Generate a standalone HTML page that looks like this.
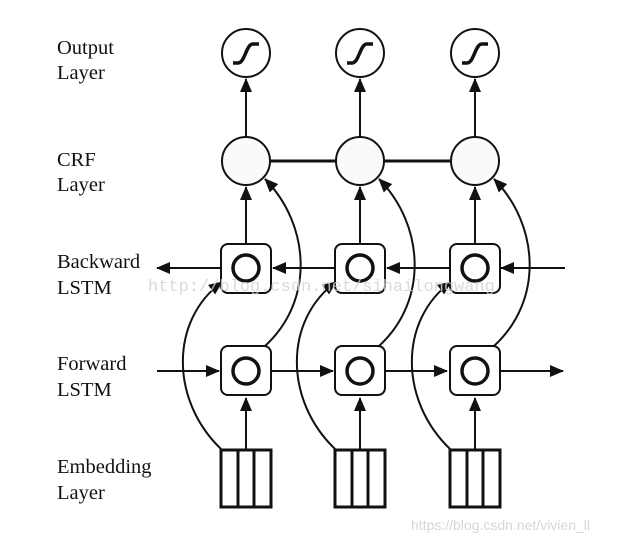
<!DOCTYPE html>
<html><head><meta charset="utf-8"><style>
html,body{margin:0;padding:0;background:#fff;}
svg{display:block;}
.lbl{font-family:"Liberation Serif",serif;font-size:20.5px;fill:#111;}
</style></head><body>
<svg width="623" height="542" viewBox="0 0 623 542" xmlns="http://www.w3.org/2000/svg">
<defs>
<marker id="ah2" markerWidth="14" markerHeight="12" refX="13" refY="6" orient="auto" markerUnits="userSpaceOnUse">
<path d="M0,0 L14,6 L0,12 z" fill="#111"/>
</marker>
</defs>
<text class="lbl" x="57" y="54">Output</text>
<text class="lbl" x="57" y="79">Layer</text>
<text class="lbl" x="57" y="166">CRF</text>
<text class="lbl" x="57" y="191">Layer</text>
<text class="lbl" x="57" y="268">Backward</text>
<text class="lbl" x="57" y="294">LSTM</text>
<text class="lbl" x="57" y="370">Forward</text>
<text class="lbl" x="57" y="396">LSTM</text>
<text class="lbl" x="57" y="473">Embedding</text>
<text class="lbl" x="57" y="499">Layer</text>

<g stroke="#111" fill="none" stroke-width="2">
<line x1="270" y1="161" x2="450" y2="161" stroke-width="3"/>
<line x1="565" y1="268" x2="501" y2="268" marker-end="url(#ah2)"/>
<line x1="450" y1="268" x2="387" y2="268" marker-end="url(#ah2)"/>
<line x1="336" y1="268" x2="273" y2="268" marker-end="url(#ah2)"/>
<line x1="221" y1="268" x2="157" y2="268" marker-end="url(#ah2)"/>
<line x1="157" y1="371" x2="219" y2="371" marker-end="url(#ah2)"/>
<line x1="271" y1="371" x2="333" y2="371" marker-end="url(#ah2)"/>
<line x1="385" y1="371" x2="447" y2="371" marker-end="url(#ah2)"/>
<line x1="499" y1="371" x2="563" y2="371" marker-end="url(#ah2)"/>
</g>

<g id="col">
<g stroke="#111" fill="none" stroke-width="2">
<line x1="246" y1="137" x2="246" y2="79" marker-end="url(#ah2)"/>
<line x1="246" y1="244" x2="246" y2="187" marker-end="url(#ah2)"/>
<line x1="246" y1="449" x2="246" y2="398" marker-end="url(#ah2)"/>
<path d="M221,449 C170,400 170,320 222,282" marker-end="url(#ah2)"/>
<path d="M265,346 C315,300 310,225 265,179" marker-end="url(#ah2)"/>
</g>
<circle cx="246" cy="53" r="24" fill="#fff" stroke="#111" stroke-width="2"/>
<path d="M233,63 L238,63 C245,63 246,44 253,44 L259,44" fill="none" stroke="#111" stroke-width="3.5"/>
<circle cx="246" cy="161" r="24" fill="#fafafa" stroke="#111" stroke-width="2"/>
<rect x="221" y="244" width="50" height="49" rx="7" fill="#fff" stroke="#111" stroke-width="2"/>
<circle cx="246" cy="268" r="13" fill="none" stroke="#111" stroke-width="3.5"/>
<rect x="221" y="346" width="50" height="49" rx="7" fill="#fff" stroke="#111" stroke-width="2"/>
<circle cx="246" cy="371" r="13" fill="none" stroke="#111" stroke-width="3.5"/>
<rect x="221" y="450" width="50" height="57" fill="#fff" stroke="#111" stroke-width="3"/>
<line x1="238" y1="450" x2="238" y2="507" stroke="#111" stroke-width="3"/>
<line x1="254" y1="450" x2="254" y2="507" stroke="#111" stroke-width="3"/>
</g>
<use href="#col" x="114"/>
<use href="#col" x="229"/>

<text x="148" y="291" font-family="Liberation Mono, monospace" font-size="17" fill="#d4d4d4" fill-opacity="0.85">http://blog.csdn.net/sihailongwang</text>
<text x="411" y="530" font-family="Liberation Sans, sans-serif" font-size="14" fill="#d6d6d6">https://blog.csdn.net/vivien_ll</text>
</svg>
</body></html>
